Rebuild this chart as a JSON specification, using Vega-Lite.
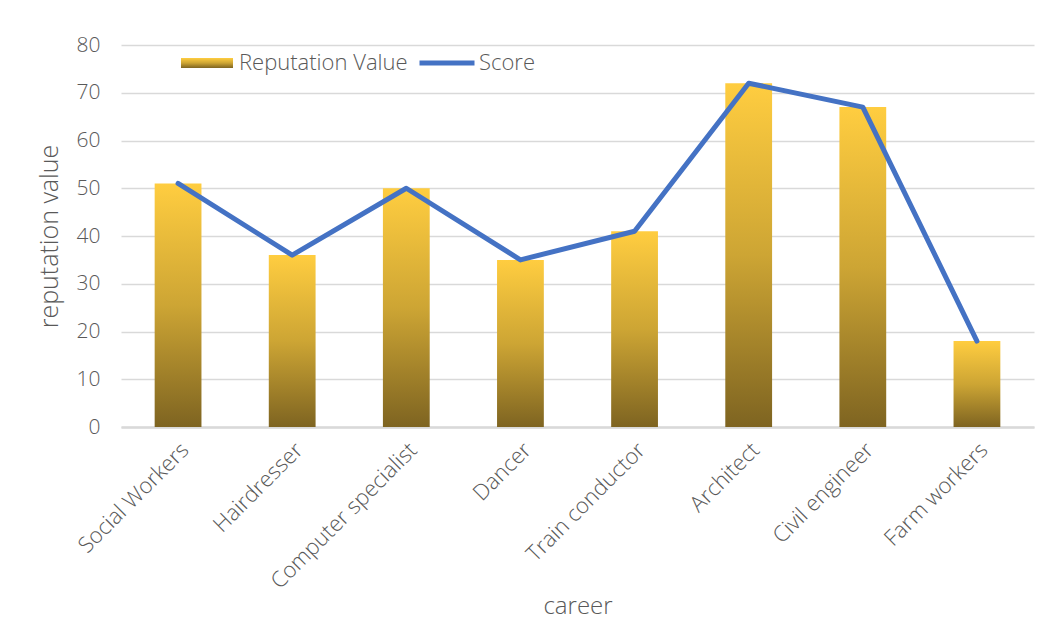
{
  "$schema": "https://vega.github.io/schema/vega-lite/v6.json",
  "width": 913,
  "height": 382,
  "padding": {"left": 37, "top": 34, "right": 25, "bottom": 0},
  "autosize": {"type": "pad"},
  "background": "white",
  "config": {
    "font": "Open Sans",
    "view": {"stroke": null},
    "axis": {"labelColor": "#595959", "titleColor": "#595959", "titleFontWeight": 300, "labelFontWeight": 300, "labelFont": "Open Sans", "titleFont": "Open Sans", "labelLimit": 400},
    "legend": {"labelColor": "#595959", "labelFont": "Open Sans", "labelFontWeight": 300, "labelLimit": 400}
  },
  "data": {
    "values": [
      {"career": "Social Workers", "value": 51, "score": 51},
      {"career": "Hairdresser", "value": 36, "score": 36},
      {"career": "Computer specialist", "value": 50, "score": 50},
      {"career": "Dancer", "value": 35, "score": 35},
      {"career": "Train conductor", "value": 41, "score": 41},
      {"career": "Architect", "value": 72, "score": 72},
      {"career": "Civil engineer", "value": 67, "score": 67},
      {"career": "Farm workers", "value": 18, "score": 18}
    ]
  },
  "encoding": {
    "x": {
      "field": "career", "type": "nominal", "sort": null,
      "scale": {"paddingInner": 0.59, "paddingOuter": 0.295},
      "axis": {"title": "career", "titleFontSize": 24, "labelFontSize": 22, "labelAngle": -45, "ticks": false, "labelPadding": 12, "labelLimit": 400, "domainColor": "#D9D9D9", "domainWidth": 2.5, "titlePadding": 2}
    }
  },
  "layer": [
    {
      "mark": {"type": "bar", "fill": {"gradient": "linear", "x1": 0, "y1": 1, "x2": 0, "y2": 0, "stops": [{"offset": 0, "color": "#7E6421"}, {"offset": 0.5, "color": "#CDA534"}, {"offset": 1, "color": "#FFCD40"}]}},
      "encoding": {
        "y": {
          "field": "value", "type": "quantitative",
          "scale": {"domain": [0, 80]},
          "axis": {"title": "reputation value", "titleFontSize": 25, "labelFontSize": 21, "tickCount": 8, "domain": false, "ticks": false, "labelPadding": 21, "gridColor": "#D9D9D9", "gridWidth": 1.5, "titlePadding": 14}
        }
      }
    },
    {
      "mark": {"type": "line", "strokeWidth": 5, "strokeCap": "round", "strokeJoin": "round"},
      "encoding": {
        "y": {"field": "score", "type": "quantitative"},
        "stroke": {
          "datum": "Score", "type": "nominal",
          "scale": {"domain": ["Reputation Value", "Score"], "range": ["#C9A232", "#4472C4"]},
          "legend": {
            "title": null, "orient": "none", "legendX": 75, "legendY": 7, "direction": "horizontal",
            "symbolType": "stroke", "symbolSize": 3025, "symbolStrokeWidth": 5, "labelFontSize": 22, "labelOffset": 21, "columnPadding": 1, "labelLimit": 400,
            "encode": {
              "symbols": {
                "update": {
                  "shape": {"signal": "datum.value === 'Reputation Value' ? 'M-2.6,-0.5H2.6V0.5H-2.6Z' : 'stroke'"},
                  "size": {"signal": "datum.value === 'Reputation Value' ? 400 : 3025"},
                  "fill": {"signal": "datum.value === 'Reputation Value' ? {gradient: 'linear', x1: 0, y1: 1, x2: 0, y2: 0, stops: [{offset: 0, color: '#7E6421'}, {offset: 0.5, color: '#CDA534'}, {offset: 1, color: '#FFCD40'}]} : 'transparent'"},
                  "strokeWidth": {"signal": "datum.value === 'Reputation Value' ? 0 : 5"}
                }
              }
            }
          }
        }
      }
    }
  ]
}
